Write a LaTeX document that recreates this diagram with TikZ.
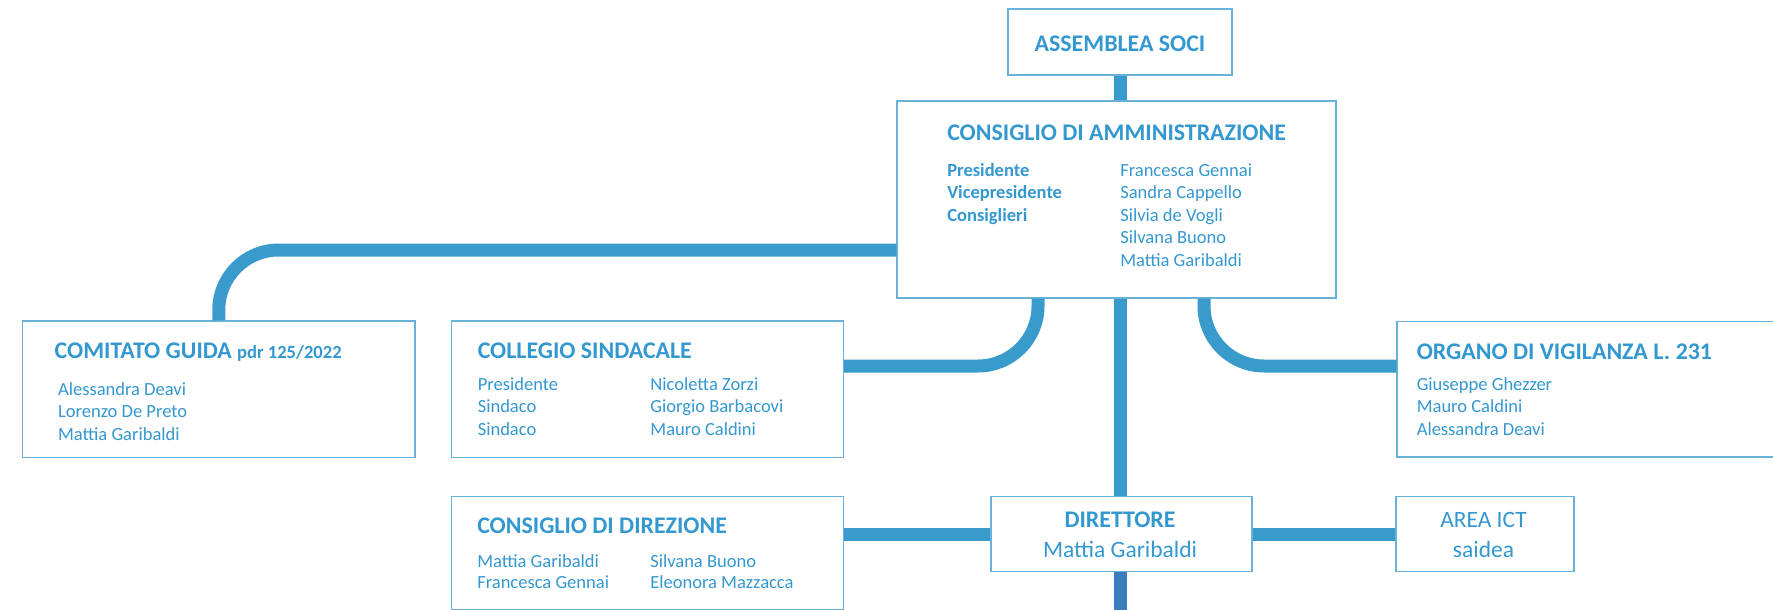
\documentclass[tikz,border=0pt]{standalone}
\usepackage{fontspec}
\setmainfont{Carlito}
\usetikzlibrary{matrix}
\definecolor{ink}{RGB}{52,152,208}
\definecolor{wire}{RGB}{57,155,204}
\definecolor{wiredark}{RGB}{60,125,190}
\definecolor{edge}{RGB}{104,178,218}
\tikzset{box/.style = {draw=edge, line width=1.1pt, fill=white, inner sep=0pt}}
\tikzset{head/.style = {font=\bfseries\fontsize{17.9}{21}\selectfont, text=ink, inner sep=0pt}}
\tikzset{plain/.style = {font=\fontsize{17.6}{21}\selectfont, text=ink, inner sep=0pt}}
\tikzset{members/.style = {matrix of nodes, inner sep=0pt,
  nodes={inner sep=0pt, text=ink, font=\fontsize{13.9}{16}\selectfont,
    text height=11pt, text depth=5.95pt, anchor=base west}}}
\tikzset{wide/.style = {column 1/.append style={nodes={text width=#1, align=flush left}}}}
\tikzset{leadcol/.style = {column 1/.append style={nodes={font=\bfseries\fontsize{13.9}{16}\selectfont}}}}
\tikzset{link/.style = {draw=wire, line width=9.75pt}}

\begin{document}
\begin{tikzpicture}[x=0.75pt, y=-0.75pt]
  \useasboundingbox (0,0) rectangle (1773,610);
  \clip (0,0) rectangle (1773,610);
  % boxes
  \node[box, minimum width=168pt, minimum height=49.5pt] (soci) at (1120,42) {};
  \node[box, minimum width=329.25pt, minimum height=147.75pt] (cda) at (1116.5,199.5) {};
  \node[box, minimum width=294.4pt, minimum height=102.4pt] (guida) at (218.75,389.25) {};
  \node[box, minimum width=294pt, minimum height=102.4pt] (sindacale) at (647.5,389.25) {};
  \node[box, minimum width=302.25pt, minimum height=101.6pt] (vigilanza) at (1598.5,389.25) {};
  \node[box, minimum width=294pt, minimum height=84.45pt] (direzione) at (647.5,553) {};
  \node[box, minimum width=195.75pt, minimum height=56.25pt] (direttore) at (1121.5,534.2) {};
  \node[box, minimum width=133.5pt, minimum height=56.25pt] (ict) at (1485,534.2) {};

  % connectors
  \draw[link] (soci.south) -- (soci.south |- cda.north);
  \draw[link] (soci.south |- cda.south) -- (soci.south |- direttore.north);
  \draw[link, rounded corners=45pt] ([shift={(0,50.5)}]cda.west) -| (guida.north);
  \draw[link, rounded corners=45pt] ([shift={(-78.5,0)}]cda.south) |- ([shift={(0,-23.25)}]sindacale.east);
  \draw[link, rounded corners=45pt] ([shift={(87.5,0)}]cda.south) |- ([shift={(0,-23.25)}]vigilanza.west);
  \draw[link] (direttore.west) -- (direttore.west -| direzione.east);
  \draw[link] (direttore.east) -- (direttore.east -| ict.west);
  \coordinate (down) at (1120,612);
  \draw[link, draw=wiredark] (soci.south |- direttore.south) -- (down);

  % texts
  \node[head, anchor=base] (soci-t) at (1120,51.7) {ASSEMBLEA SOCI};

  \node[head, anchor=base west] (cda-t) at (947,140) {CONSIGLIO DI AMMINISTRAZIONE};
  \matrix[members, wide=129.75pt, leadcol, matrix anchor=cda-m-1-1.base west] (cda-m) at (947,176) {
    Presidente     & Francesca Gennai \\
    Vicepresidente & Sandra Cappello \\
    Consiglieri    & Silvia de Vogli \\
                   & Silvana Buono \\
                   & Mattia Garibaldi \\};

  \node[head, anchor=base west] (guida-t) at (54.4,358.3)
    {COMITATO GUIDA {\fontsize{13.9}{16}\selectfont pdr 125/2022}};
  \matrix[members, matrix anchor=guida-m-1-1.base west] (guida-m) at (57.8,395) {
    Alessandra Deavi \\
    Lorenzo De Preto \\
    Mattia Garibaldi \\};

  \node[head, anchor=base west] (sindacale-t) at (477.5,358.3) {COLLEGIO SINDACALE};
  \matrix[members, wide=129.5pt, matrix anchor=sindacale-m-1-1.base west] (sindacale-m) at (477.5,390) {
    Presidente & Nicoletta Zorzi \\
    Sindaco    & Giorgio Barbacovi \\
    Sindaco    & Mauro Caldini \\};

  \node[head, anchor=base west] (vigilanza-t) at (1416.5,359) {ORGANO DI VIGILANZA L. 231};
  \matrix[members, matrix anchor=vigilanza-m-1-1.base west] (vigilanza-m) at (1416.5,390) {
    Giuseppe Ghezzer \\
    Mauro Caldini \\
    Alessandra Deavi \\};

  \node[head, anchor=base west] (direzione-t) at (477,533.3) {CONSIGLIO DI DIREZIONE};
  \matrix[members, wide=129.75pt, row sep=-1pt, matrix anchor=direzione-m-1-1.base west] (direzione-m) at (477,567.7) {
    Mattia Garibaldi  & Silvana Buono \\
    Francesca Gennai  & Eleonora Mazzacca \\};

  \node[head, anchor=base] (direttore-t) at (1120,527.3) {DIRETTORE};
  \node[plain, anchor=base] (direttore-n) at (1120,557.3) {Mattia Garibaldi};

  \node[plain, anchor=base] (ict-t) at (1483.5,527.3) {AREA ICT};
  \node[plain, anchor=base] (ict-n) at (1483.5,557.3) {saidea};
\end{tikzpicture}
\end{document}
